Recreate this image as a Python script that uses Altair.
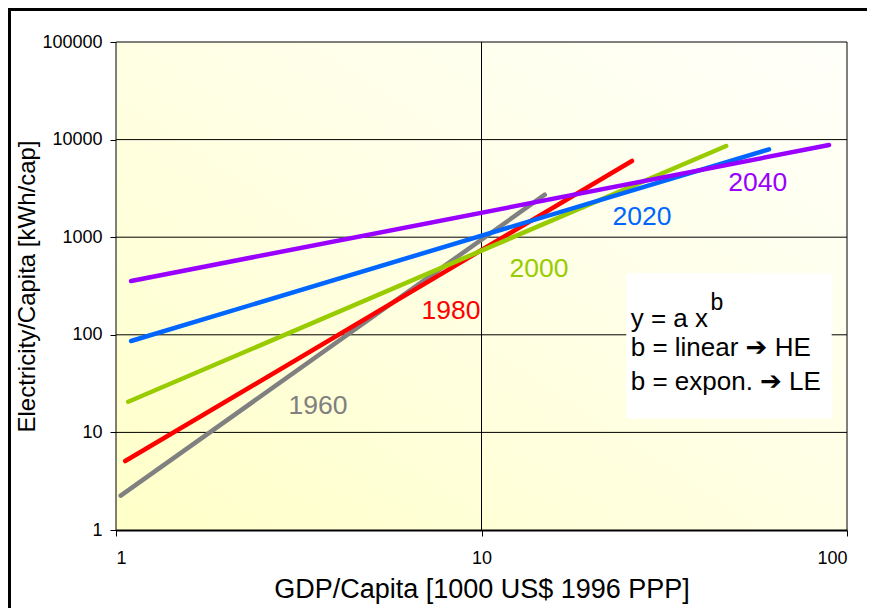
import altair as alt
import pandas as pd

# ---- data ----
years = ["1960", "1980", "2000", "2020", "2040"]
colors = ["#808080", "#FF0000", "#99CC00", "#0066FF", "#9900FF"]
x_start = [1.03, 1.06, 1.08, 1.10, 1.10]
y_start = [2.25, 5.09, 20.6, 86.4, 356]
x_end = [14.9, 25.8, 46.7, 61.2, 89.3]
y_end = [2725, 6040, 8600, 7950, 8800]

label_x = [3.57, 8.25, 14.36, 27.5, 57.0]
label_y = [18.7, 175, 472, 1610, 3590]

x_ticks = [1, 10, 100]
y_ticks = [1, 10, 100, 1000, 10000, 100000]
x_grid = [10]
y_grid = [10, 100, 1000, 10000]

box_x = [24.9, 90.8]
box_y = [13.9, 427]
eq_lines = ["y = a x", "b = linear \u2794 HE", "b = expon. \u2794 LE"]
eq_x = [25.6, 25.6, 25.6]
eq_y = [121, 60.7, 27.2]
sup_text = ["b"]
sup_x = [42.3]
sup_y = [178]

W, H = 731, 488
FONT = "Liberation Sans, DejaVu Sans"

rows = []
for i, yr in enumerate(years):
    rows.append({"year": yr, "x": x_start[i], "y": y_start[i], "o": 0})
    rows.append({"year": yr, "x": x_end[i], "y": y_end[i], "o": 1})
lines_df = pd.DataFrame(rows)
labels_df = pd.DataFrame({"year": years, "x": label_x, "y": label_y})
hgrid_df = pd.DataFrame({"y": y_grid})
vgrid_df = pd.DataFrame({"x": x_grid})
box_df = pd.DataFrame({"x": [box_x[0]], "x2": [box_x[1]], "y": [box_y[0]], "y2": [box_y[1]]})
eq_df = pd.DataFrame({"t": eq_lines, "x": eq_x, "y": eq_y})
sup_df = pd.DataFrame({"t": sup_text, "x": sup_x, "y": sup_y})
one = pd.DataFrame({"k": [0]})

xs = alt.Scale(type="log", domain=[1, 100], nice=False)
ys = alt.Scale(type="log", domain=[1, 100000], nice=False)

xaxis = alt.Axis(values=x_ticks, format="d", grid=False, title="GDP/Capita [1000 US$ 1996 PPP]",
                 domainWidth=2, labelPadding=13, titlePadding=9, titleFontSize=27)
yaxis = alt.Axis(values=y_ticks, format="d", grid=False, title="Electricity/Capita [kWh/cap]",
                 domainWidth=1, labelPadding=8, titlePadding=2, titleFontSize=24)

X = alt.X("x:Q", scale=xs, axis=xaxis)
Y = alt.Y("y:Q", scale=ys, axis=yaxis)
color = alt.Color("year:N", scale=alt.Scale(domain=years, range=colors), legend=None)

# outer figure frame: only its top and left edges are inside the picture
frame_top = alt.Chart(one).mark_rule(color="black", strokeWidth=3).encode(
    x=alt.value(-108), x2=alt.value(W + 40), y=alt.value(-32.5)
)
frame_left = alt.Chart(one).mark_rule(color="black", strokeWidth=3).encode(
    x=alt.value(-106.5), y=alt.value(-34), y2=alt.value(H + 100)
)

bg = alt.Chart(one).mark_rect(
    stroke="black", strokeWidth=1,
    fill=alt.LinearGradient(
        gradient="linear",
        stops=[alt.GradientStop(color="#FFFFC8", offset=0),
               alt.GradientStop(color="#FFFFE4", offset=0.5),
               alt.GradientStop(color="#FFFFFA", offset=1)],
        x1=0, y1=1, x2=1, y2=0,
    ),
).encode(x=alt.value(0), x2=alt.value(W), y=alt.value(0), y2=alt.value(H))

hgrid = alt.Chart(hgrid_df).mark_rule(color="black", strokeWidth=1).encode(y=Y)
vgrid = alt.Chart(vgrid_df).mark_rule(color="black", strokeWidth=1).encode(x=X)

lines = alt.Chart(lines_df).mark_line(strokeWidth=4.5, strokeCap="round").encode(
    x=X, y=Y, color=color, order="o:Q", detail="year:N"
)

labels = alt.Chart(labels_df).mark_text(fontSize=26.5, font=FONT, align="center", baseline="middle").encode(
    x=X, y=Y, text="year:N", color=color
)

box = alt.Chart(box_df).mark_rect(fill="white").encode(x=X, x2="x2:Q", y=Y, y2="y2:Q")

eq = alt.Chart(eq_df).mark_text(fontSize=26, font=FONT, align="left", baseline="alphabetic", color="black").encode(
    x=X, y=Y, text="t:N"
)
sup = alt.Chart(sup_df).mark_text(fontSize=23, font=FONT, align="left", baseline="alphabetic", color="black").encode(
    x=X, y=Y, text="t:N"
)

chart = alt.layer(frame_top, frame_left, bg, hgrid, vgrid, lines, labels, box, eq, sup).properties(
    width=W, height=H,
    padding={"left": 108, "top": 34, "right": 20, "bottom": 78},
    autosize=alt.AutoSizeParams(type="none"),
    background="white",
).configure_view(stroke=None).configure_axis(
    labelFont=FONT, titleFont=FONT, labelFontSize=18, labelColor="black", titleColor="black",
    titleFontWeight="normal", domainColor="black", tickColor="black", tickSize=6,
)

chart.save("out.html", embed_options={"renderer": "svg", "actions": False})
